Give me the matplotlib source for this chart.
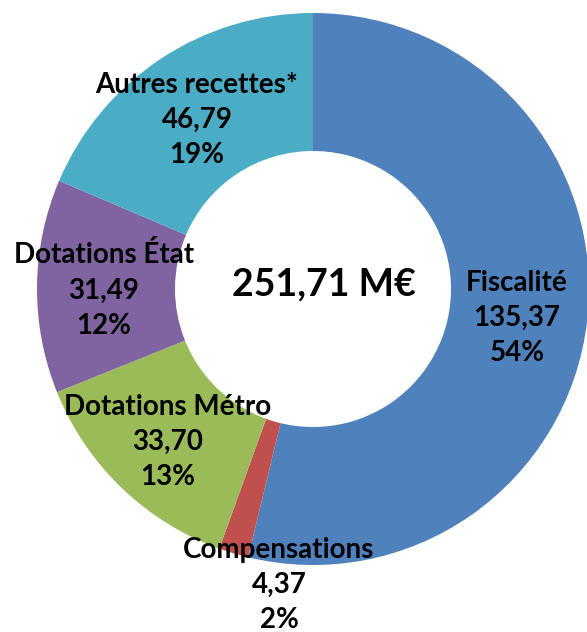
import matplotlib.pyplot as plt

# données (M€)
categories = ["Fiscalité", "Compensations", "Dotations Métro", "Dotations État", "Autres recettes*"]
montants = [135.37, 4.37, 33.70, 31.49, 46.79]
valeurs_txt = ["135,37", "4,37", "33,70", "31,49", "46,79"]
pourcents = ["54%", "2%", "13%", "12%", "19%"]
total_txt = "251,71 M€"

couleurs = ["#4F81BD", "#C0504D", "#9BBB59", "#8064A2", "#4BACC6"]

# position des étiquettes (pixels, origine en haut à gauche)
pos_labels = [(517, 318), (279, 585), (168, 442), (104, 290), (197, 120)]

fig = plt.figure(figsize=(5.87, 6.32), dpi=100)
ax = fig.add_axes([0, 0, 1, 1])

ax.pie(montants, colors=couleurs, startangle=-90, counterclock=True,
       radius=276, center=(313, 289),
       wedgeprops=dict(width=138, linewidth=0))

ax.set_xlim(0, 587)
ax.set_ylim(632, 0)
ax.set_aspect("auto")
ax.axis("off")

for cat, val, pct, (x, y) in zip(categories, valeurs_txt, pourcents, pos_labels):
    ax.text(x, y, cat + "\n" + val + "\n" + pct, ha="center", va="center",
            fontsize=20, fontweight="bold", family="Lato", linespacing=1.45,
            color="black")

ax.text(324, 284, total_txt, ha="center", va="center", fontsize=27,
        fontweight="bold", family="Lato", color="black")

plt.savefig("out.png", dpi=100)
